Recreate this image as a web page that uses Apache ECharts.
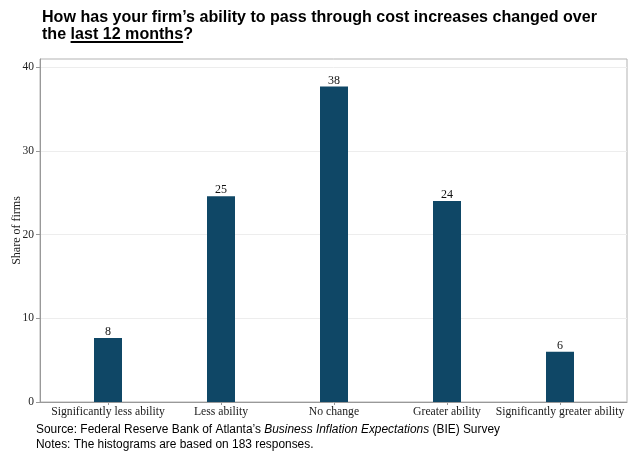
<!DOCTYPE html>
<html>
<head>
<meta charset="utf-8">
<script src="https://cdn.jsdelivr.net/npm/echarts@6/dist/echarts.min.js"></script>
<style>
  html, body { margin: 0; padding: 0; background: #fff; }
  #chart { width: 638px; height: 457px; }
</style>
</head>
<body>
<div id="chart"></div>
<script>
// Survey answers and share of firms (%), 183 responses
const categories = ['Significantly less ability', 'Less ability', 'No change', 'Greater ability', 'Significantly greater ability'];
const shares = [7.65, 24.59, 37.70, 24.04, 6.01];
const yTicks = [0, 10, 20, 30, 40];

const TITLE_1 = 'How has your firm’s ability to pass through cost increases changed over';
const TITLE_2 = 'the last 12 months?';
const TITLE_U = 'last 12 months';
const SOURCE_A = 'Source: Federal Reserve Bank of Atlanta’s ';
const SOURCE_B = 'Business Inflation Expectations';
const SOURCE_C = ' (BIE) Survey';
const NOTES = 'Notes: The histograms are based on 183 responses.';

const SERIF = '"Liberation Serif", "Times New Roman", serif';
const SANS = '"Liberation Sans", Arial, sans-serif';
const BAR = '#0f4766';

// measure text so the title/notes can be fitted to the reference widths
const ctx = document.createElement('canvas').getContext('2d');
function tw(text, font) { ctx.font = font; return ctx.measureText(text).width; }

const titleFont = 'bold 17px ' + SANS;
const tsx = 555 / tw(TITLE_1, titleFont);
const uStart = 42 + tw('the ', titleFont) * tsx;
const uEnd = uStart + tw(TITLE_U, titleFont) * tsx;

const srcFont = '12px ' + SANS;
const srcW = tw(SOURCE_A, srcFont) + tw(SOURCE_B, 'italic ' + srcFont) + tw(SOURCE_C, srcFont);
const ssx = 464 / srcW;

const chart = echarts.init(document.getElementById('chart'));

chart.setOption({
    animation: false,
    grid: [
        { left: 40, right: 11, top: 59, bottom: 55, show: true, borderColor: '#b3b3b3', borderWidth: 1,
          outerBoundsMode: 'none' },
        { left: 51.5, right: 21.5, top: 59, bottom: 55, outerBoundsMode: 'none' },
    ],
    xAxis: [
        { gridIndex: 0, type: 'value', min: 0, max: 1, axisLine: { show: true, lineStyle: { color: '#999' } },
          axisTick: { show: false }, axisLabel: { show: false }, splitLine: { show: false } },
        { gridIndex: 1, type: 'category', data: categories,
          axisLine: { show: false },
          axisTick: { show: true, alignWithLabel: true, length: 3, lineStyle: { color: '#999' } },
          axisLabel: { interval: 0, margin: 4, fontFamily: SERIF, fontSize: 11.7, color: '#1a1a1a' } },
    ],
    yAxis: [
        { gridIndex: 0, type: 'value', min: 0, max: 41, interval: 10,
          name: 'Share of firms', nameLocation: 'middle', nameGap: 17, nameMoveOverlap: false,
          nameTextStyle: { fontFamily: SERIF, fontSize: 12, color: '#1a1a1a' },
          axisLine: { show: true, lineStyle: { color: '#999' } },
          axisTick: { show: true, length: 4, lineStyle: { color: '#999' }, customValues: yTicks },
          axisLabel: { fontFamily: SERIF, fontSize: 11.5, color: '#222', margin: 6, customValues: yTicks },
          splitLine: { lineStyle: { color: '#ededed', width: 1 } } },
        { gridIndex: 1, type: 'value', min: 0, max: 41, show: false },
    ],
    series: [{
        type: 'bar',
        xAxisIndex: 1,
        yAxisIndex: 1,
        data: shares,
        barWidth: 28,
        itemStyle: { color: BAR },
        label: {
            show: true, position: 'top', distance: 0,
            fontFamily: SERIF, fontSize: 12, color: '#111',
            formatter: p => Math.round(p.value),
        },
    }],
    graphic: [
        { type: 'text', x: 42, y: 9, scaleX: tsx,
          style: { text: TITLE_1, font: titleFont, fill: '#000' } },
        { type: 'text', x: 42, y: 26, scaleX: tsx,
          style: { text: TITLE_2, font: titleFont, fill: '#000' } },
        { type: 'line', shape: { x1: uStart, y1: 42, x2: uEnd, y2: 42 },
          style: { stroke: '#000', lineWidth: 2 } },
        { type: 'text', x: 36, y: 424, scaleX: ssx,
          style: {
              text: '{n|' + SOURCE_A + '}{i|' + SOURCE_B + '}{n|' + SOURCE_C + '}',
              rich: {
                  n: { fontFamily: SANS, fontSize: 12, fill: '#000' },
                  i: { fontFamily: SANS, fontSize: 12, fontStyle: 'italic', fill: '#000' },
              },
          } },
        { type: 'text', x: 36, y: 439, scaleX: ssx,
          style: { text: NOTES, font: srcFont, fill: '#000' } },
    ],
});
</script>
</body>
</html>
